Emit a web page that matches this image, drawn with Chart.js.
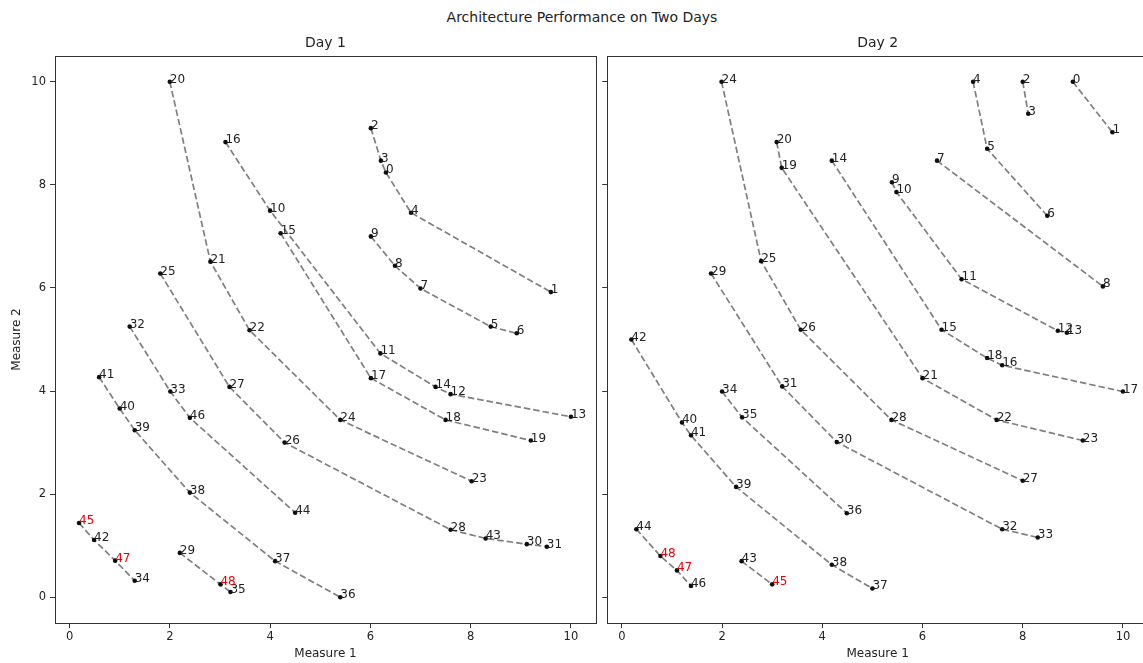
<!DOCTYPE html>
<html>
<head>
<meta charset="utf-8">
<title>Architecture Performance on Two Days</title>
<script src="https://cdn.jsdelivr.net/npm/chart.js@4.4.1/dist/chart.umd.min.js"></script>
<style>
  html, body { margin: 0; padding: 0; background: #fff; width: 1143px; height: 663px; overflow: hidden; }
  body { position: relative; font-family: 'DejaVu Sans', sans-serif; }
  #suptitle { position: absolute; left: 0; width: 1164px; top: 9px; text-align: center; font-size: 14px; color: #222; }
  #leftBox { position: absolute; left: 0; top: 0; width: 600px; height: 663px; }
  #rightBox { position: absolute; left: 600px; top: 0; width: 552px; height: 663px; }
</style>
</head>
<body>
<div id="suptitle">Architecture Performance on Two Days</div>
<div id="leftBox"><canvas id="day1Chart"></canvas></div>
<div id="rightBox"><canvas id="day2Chart"></canvas></div>
<script>
// point number = array index
const day1X = [6.31, 9.6, 6.01, 6.21, 6.81, 8.4, 8.92, 7.0, 6.49, 6.01,
               4.0, 6.2, 7.6, 10.0, 7.3, 4.21, 3.11, 6.01, 7.5, 9.2,
               2.0, 2.81, 3.59, 8.02, 5.4, 1.81, 4.29, 3.19, 7.6, 2.2,
               9.12, 9.52, 1.2, 2.01, 1.3, 3.21, 5.4, 4.1, 2.4, 1.3,
               1.0, 0.59, 0.49, 8.3, 4.5, 0.19, 2.4, 0.91, 3.01];
const day1Y = [8.24, 5.92, 9.1, 8.47, 7.46, 5.25, 5.12, 5.99, 6.43, 7.0,
               7.5, 4.73, 3.94, 3.5, 4.08, 7.06, 8.83, 4.25, 3.44, 3.04,
               10.0, 6.51, 5.18, 2.25, 3.44, 6.28, 3.0, 4.08, 1.31, 0.86,
               1.03, 0.98, 5.25, 3.99, 0.32, 0.1, 0.0, 0.7, 2.03, 3.24,
               3.66, 4.27, 1.11, 1.14, 1.64, 1.44, 3.48, 0.71, 0.25];
const day2X = [9.0, 9.79, 8.0, 8.11, 7.01, 7.29, 8.49, 6.29, 9.6, 5.39,
               5.48, 6.78, 8.7, 8.88, 4.19, 6.38, 7.59, 10.0, 7.29, 3.19,
               3.09, 6.0, 7.48, 9.2, 1.99, 2.78, 3.57, 8.0, 5.38, 1.78,
               4.29, 3.2, 7.59, 8.3, 2.0, 2.4, 4.49, 5.0, 4.19, 2.28,
               1.2, 1.38, 0.19, 2.39, 0.29, 3.0, 1.38, 1.1, 0.77];
const day2Y = [10.0, 9.02, 10.0, 9.38, 10.0, 8.7, 7.4, 8.47, 6.03, 8.05,
               7.86, 6.17, 5.17, 5.13, 8.47, 5.19, 4.5, 3.99, 4.64, 8.33,
               8.83, 4.25, 3.44, 3.04, 10.0, 6.52, 5.19, 2.26, 3.44, 6.28,
               3.01, 4.09, 1.32, 1.16, 3.99, 3.49, 1.63, 0.17, 0.63, 2.14,
               3.39, 3.14, 5.0, 0.7, 1.32, 0.25, 0.22, 0.52, 0.8];

// dashed lines join these points, in this order
const day1Groups = [[2, 3, 0, 4, 1], [9, 8, 7, 5, 6], [16, 10, 11, 14, 12, 13], [15, 17, 18, 19],
                    [20, 21, 22, 24, 23], [25, 27, 26, 28, 43, 30, 31], [29, 48, 35],
                    [32, 33, 46, 44], [41, 40, 39, 38, 37, 36], [45, 42, 47, 34]];
const day2Groups = [[0, 1], [2, 3], [4, 5, 6], [7, 8], [9, 10, 11, 12, 13], [14, 15, 18, 16, 17],
                    [20, 19, 21, 22, 23], [24, 25, 26, 28, 27], [29, 31, 30, 32, 33], [34, 35, 36],
                    [42, 40, 41, 39, 38, 37], [44, 48, 47, 46], [43, 45]];

const redLabels = [45, 47, 48];
const xTicks = [0, 2, 4, 6, 8, 10];
const yTicks = [0, 2, 4, 6, 8, 10];

const FONT = "'DejaVu Sans', sans-serif";
const INK = '#222';

// frame round the plot area, like the matplotlib spines
const boxPlugin = {
    id: 'box',
    afterDraw(chart) {
        const a = chart.chartArea;
        const ctx = chart.ctx;
        ctx.save();
        ctx.strokeStyle = '#333';
        ctx.lineWidth = 1;
        ctx.strokeRect(Math.round(a.left) + 0.5, Math.round(a.top) + 0.5,
                       Math.round(a.right - a.left), Math.round(a.bottom - a.top));
        ctx.restore();
    }
};

// number next to every point
const labelPlugin = {
    id: 'pointLabels',
    afterDatasetsDraw(chart) {
        const n = chart.data.datasets.length - 1;
        const meta = chart.getDatasetMeta(n);
        const ctx = chart.ctx;
        ctx.save();
        ctx.font = '12px ' + FONT;
        ctx.textAlign = 'left';
        ctx.textBaseline = 'alphabetic';
        meta.data.forEach((pt, i) => {
            ctx.fillStyle = redLabels.includes(i) ? '#e8000b' : INK;
            ctx.fillText(String(i), pt.x, pt.y + 1);
        });
        ctx.restore();
    }
};

function buildDatasets(xs, ys, groups) {
    const sets = groups.map(g => ({
        data: g.map(i => ({ x: xs[i], y: ys[i] })),
        showLine: true,
        borderColor: 'rgba(0, 0, 0, 0.5)',
        borderWidth: 1.7,
        borderDash: [6.5, 3],
        pointRadius: 0,
        tension: 0
    }));
    sets.push({
        data: xs.map((x, i) => ({ x: x, y: ys[i] })),
        showLine: false,
        pointRadius: 2.3,
        pointBackgroundColor: '#111',
        pointBorderWidth: 0
    });
    return sets;
}

function makeChart(id, title, xs, ys, groups, first) {
    const ctx = document.getElementById(id).getContext('2d');
    return new Chart(ctx, {
        type: 'scatter',
        data: { datasets: buildDatasets(xs, ys, groups) },
        options: {
            responsive: true,
            maintainAspectRatio: false,
            animation: false,
            events: [],
            layout: { padding: { left: 0, right: 3, top: 0, bottom: 0 } },
            plugins: {
                legend: { display: false },
                tooltip: { enabled: false },
                title: {
                    display: true,
                    text: title,
                    fullSize: false,
                    color: INK,
                    font: { family: FONT, size: 14, weight: 'normal', lineHeight: 1.2 },
                    padding: { top: 35, bottom: 4.2 }
                }
            },
            scales: {
                x: {
                    type: 'linear',
                    min: -0.29,
                    max: 10.5,
                    afterBuildTicks: s => { s.ticks = xTicks.map(v => ({ value: v })); },
                    afterFit: s => { s.height = 40; },
                    grid: { display: true, drawOnChartArea: false, drawTicks: true, tickLength: 5, tickColor: '#333' },
                    border: { display: false },
                    ticks: { color: INK, padding: 2, maxRotation: 0, font: { family: FONT, size: 11.5 } },
                    title: {
                        display: true,
                        text: 'Measure 1',
                        color: INK,
                        font: { family: FONT, size: 12 },
                        padding: { top: 2, bottom: 2 }
                    }
                },
                y: {
                    type: 'linear',
                    min: -0.5,
                    max: 10.5,
                    afterBuildTicks: s => { s.ticks = yTicks.map(v => ({ value: v })); },
                    afterFit: s => { s.width = first ? 55 : 7.3; },
                    grid: { display: true, drawOnChartArea: false, drawTicks: true, tickLength: 5, tickColor: '#333' },
                    border: { display: false },
                    ticks: { display: first, color: INK, padding: 4, font: { family: FONT, size: 11.5 } },
                    title: {
                        display: first,
                        text: 'Measure 2',
                        color: INK,
                        font: { family: FONT, size: 12 },
                        padding: { top: 10, bottom: 4 }
                    }
                }
            }
        },
        plugins: [boxPlugin, labelPlugin]
    });
}

makeChart('day1Chart', 'Day 1', day1X, day1Y, day1Groups, true);
makeChart('day2Chart', 'Day 2', day2X, day2Y, day2Groups, false);
</script>
</body>
</html>
